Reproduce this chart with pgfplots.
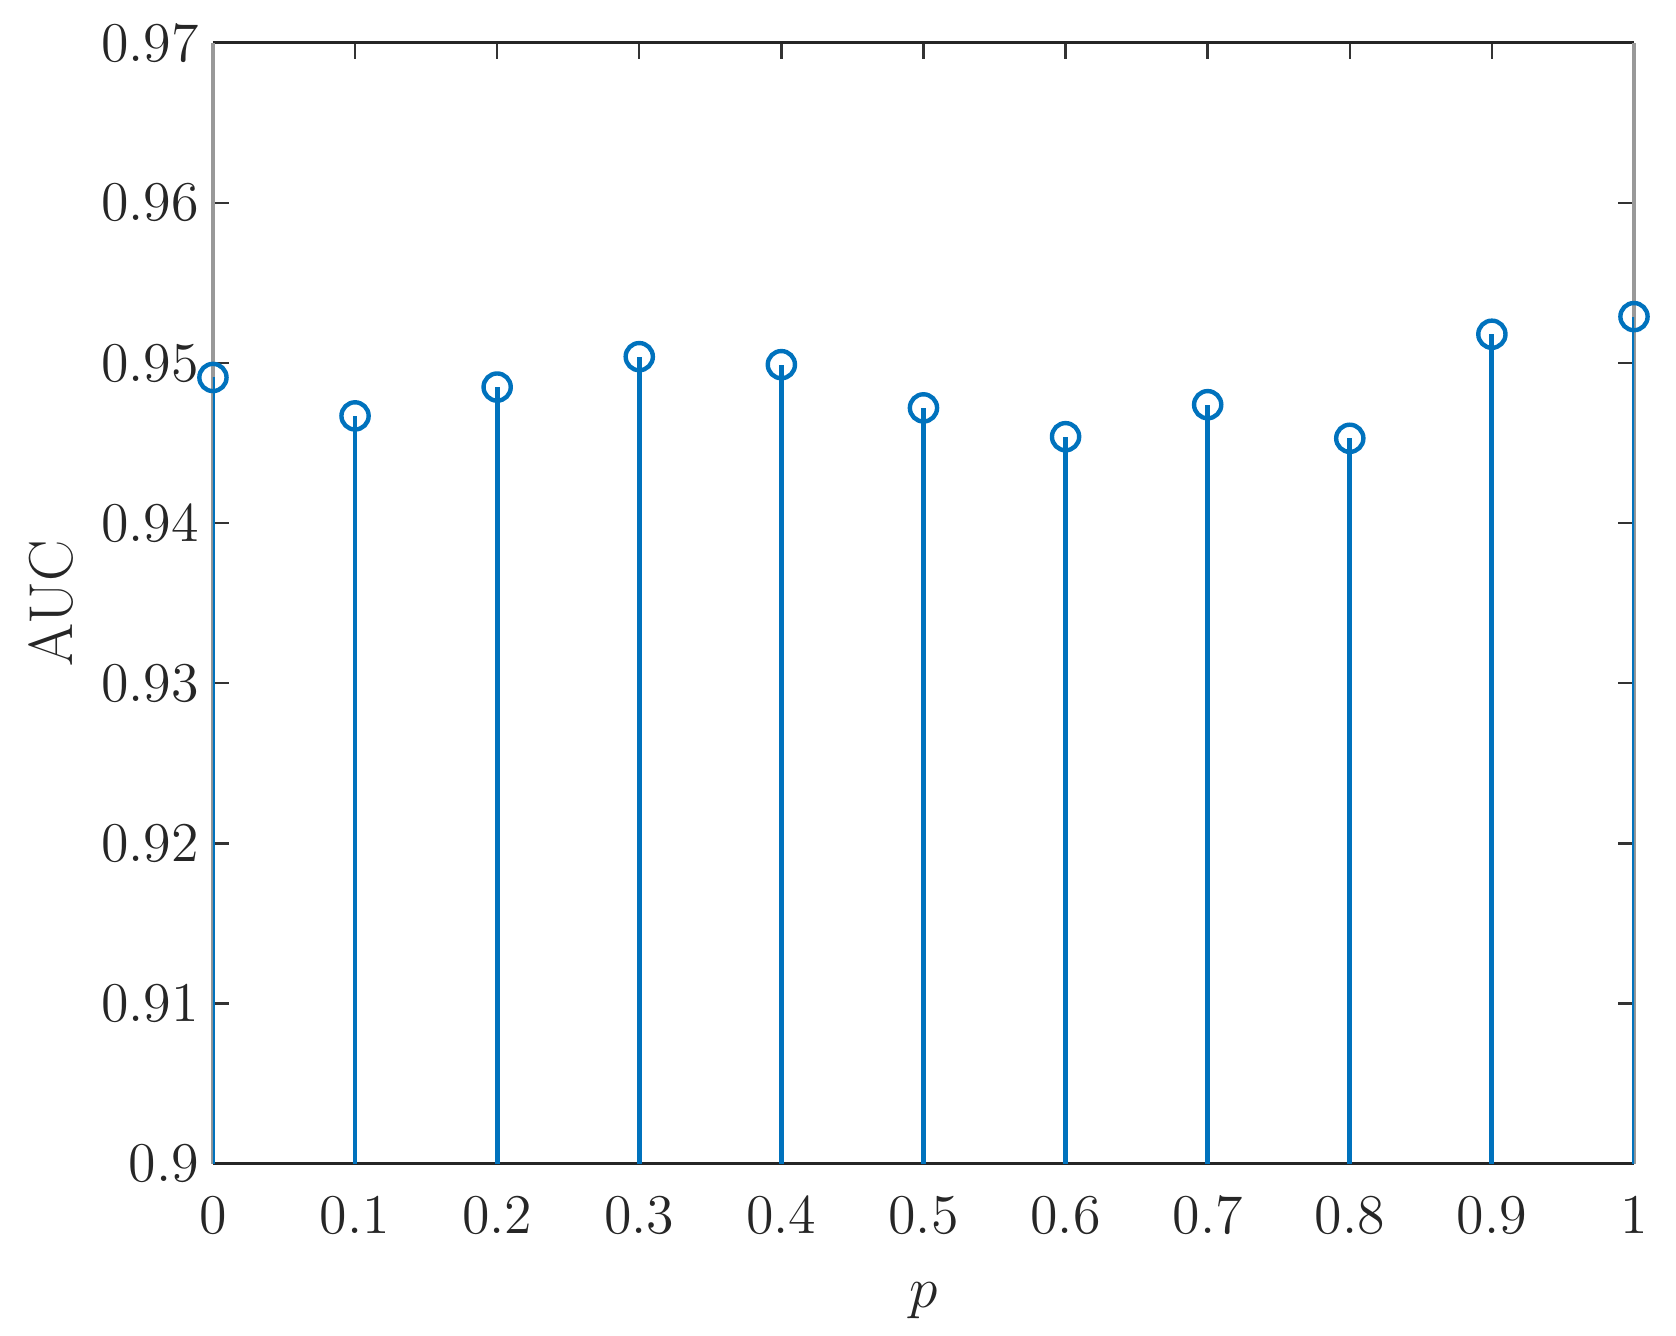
\documentclass[border=0pt]{standalone}
\usepackage{pgfplots}
\pgfplotsset{compat=1.18}
\definecolor{mblue}{rgb}{0,0.447,0.741}
\begin{document}
\begin{tikzpicture}
\begin{axis}[
  scale only axis,
  width=355pt, height=280pt,
  xmin=0, xmax=1, ymin=0.9, ymax=0.97,
  xtick={0,0.1,0.2,0.3,0.4,0.5,0.6,0.7,0.8,0.9,1},
  xticklabels={0,0.1,0.2,0.3,0.4,0.5,0.6,0.7,0.8,0.9,1},
  ytick={0.9,0.91,0.92,0.93,0.94,0.95,0.96,0.97},
  yticklabels={0.9,0.91,0.92,0.93,0.94,0.95,0.96,0.97},
  tick align=inside,
  major tick length=4pt,
  tick style={black!80, line width=0.6pt},
  separate axis lines,
  x axis line style={black!85, line width=0.8pt},
  y axis line style={black!40, line width=0.8pt},
  ticklabel style={font=\fontsize{14}{16}\selectfont, text=black!85},
  xticklabel style={yshift=-4.5pt},
  label style={font=\fontsize{15.5}{18}\selectfont, text=black!85},
  xlabel={$p$},
  ylabel={AUC},
  xlabel style={yshift=-5pt},
  clip=true,
]
\addplot+[ycomb, mblue, line width=1.2pt, mark=o, mark size=3.4pt,
  mark options={mblue, line width=1.1pt, fill=none}]
coordinates {
(0,0.9491) (0.1,0.9467) (0.2,0.9485) (0.3,0.9504) (0.4,0.9499)
(0.5,0.9472) (0.6,0.9454) (0.7,0.9474) (0.8,0.9453) (0.9,0.9518) (1,0.9529)
};
\end{axis}
\pgfresetboundingbox
\path[use as bounding box] ([shift={(-53.2pt,-43pt)}]current axis.south west) rectangle ([shift={(10.5pt,10.7pt)}]current axis.north east);
\end{tikzpicture}
\end{document}
